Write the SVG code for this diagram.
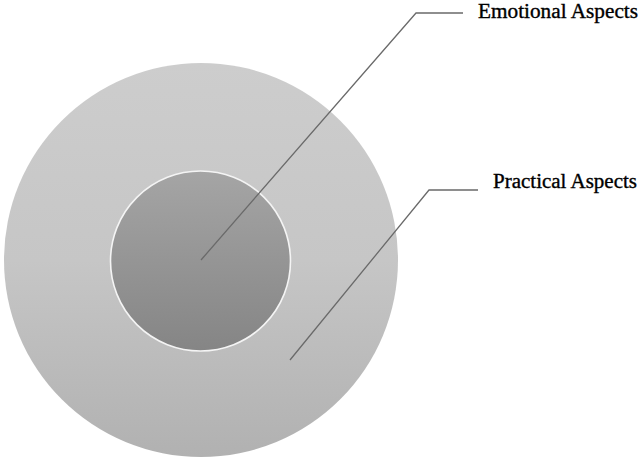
<svg xmlns="http://www.w3.org/2000/svg" width="640" height="459" viewBox="0 0 640 459">
  <defs>
    <linearGradient id="outerFill" x1="0" y1="0" x2="0" y2="1">
      <stop offset="0" stop-color="#cdcdcd"/>
      <stop offset="0.5" stop-color="#c6c6c6"/>
      <stop offset="1" stop-color="#b1b1b1"/>
    </linearGradient>
    <linearGradient id="innerFill" x1="0" y1="0" x2="0" y2="1">
      <stop offset="0" stop-color="#a5a5a5"/>
      <stop offset="1" stop-color="#858585"/>
    </linearGradient>
    <style>
      .label { font-family: "Liberation Serif", "DejaVu Serif", serif; font-size: 20px; fill: #000; stroke: #000; stroke-width: 0.35; }
      .leader { fill: none; stroke: #6a6a6a; stroke-width: 1.3; }
    </style>
  </defs>
  <rect width="640" height="459" fill="#ffffff"/>

  <g id="practical-aspects">
    <circle cx="201" cy="260" r="197" fill="url(#outerFill)"/>
  </g>

  <g id="emotional-aspects">
    <circle cx="200.5" cy="261" r="90" fill="url(#innerFill)" stroke="#f4f4f4" stroke-width="1.6"/>
  </g>

  <g id="connectors">
    <polyline class="leader" points="201,260 416,13 463,13"/>
    <polyline class="leader" points="290,360 429,190 478,190"/>
  </g>

  <g id="labels">
    <text class="label" x="478" y="18" textLength="160" lengthAdjust="spacingAndGlyphs">Emotional Aspects</text>
    <text class="label" x="493" y="188" textLength="144" lengthAdjust="spacingAndGlyphs">Practical Aspects</text>
  </g>
</svg>
